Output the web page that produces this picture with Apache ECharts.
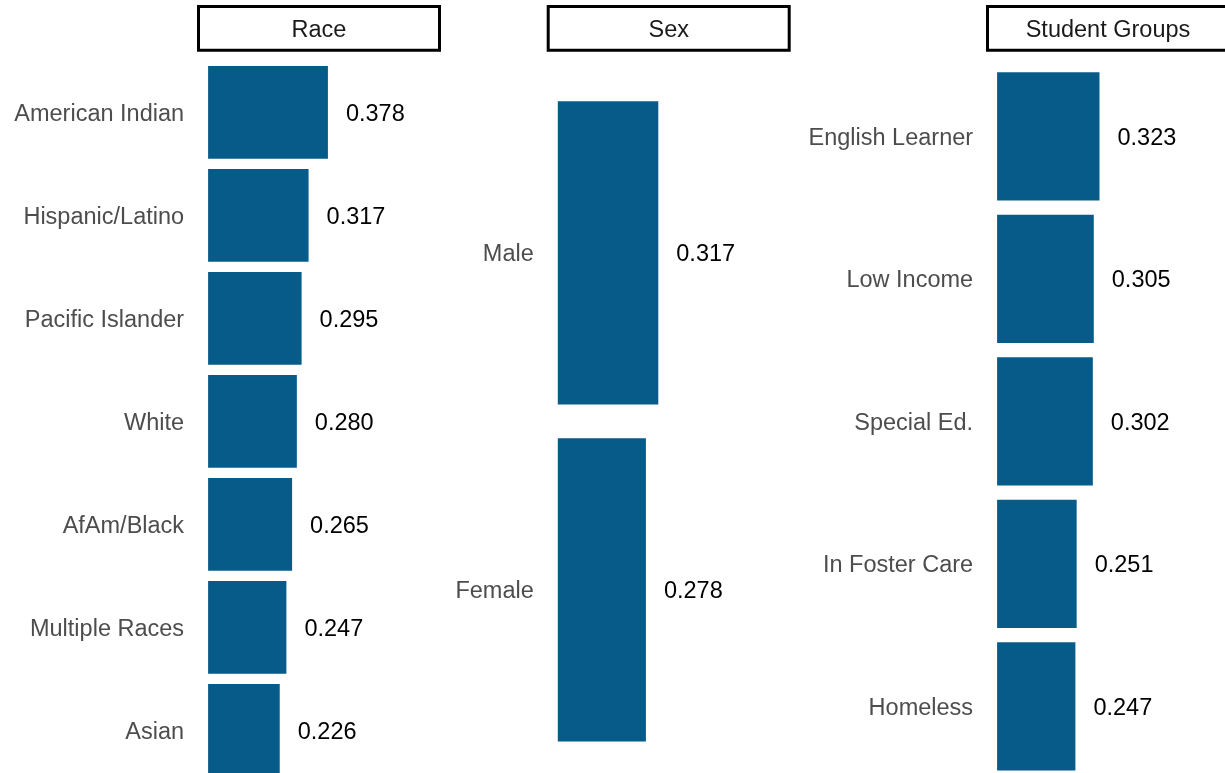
<!DOCTYPE html>
<html>
<head>
<meta charset="utf-8">
<script src="https://cdn.jsdelivr.net/npm/echarts@6/dist/echarts.min.js"></script>
<style>
html,body{margin:0;padding:0;background:#fff;}
#chart{width:1225px;height:773px;}
</style>
</head>
<body>
<div id="chart"></div>
<script>
// ---- data ----
const panelTitles = ['Race', 'Sex', 'Student Groups'];
const raceCats = ['American Indian', 'Hispanic/Latino', 'Pacific Islander', 'White', 'AfAm/Black', 'Multiple Races', 'Asian'];
const raceVals = [0.378, 0.317, 0.295, 0.280, 0.265, 0.247, 0.226];
const sexCats = ['Male', 'Female'];
const sexVals = [0.317, 0.278];
const groupCats = ['English Learner', 'Low Income', 'Special Ed.', 'In Foster Care', 'Homeless'];
const groupVals = [0.323, 0.305, 0.302, 0.251, 0.247];

// ---- layout ----
const FONT = 'Liberation Sans, Arial, sans-serif';
const FS = 23.5;
const BAR = '#075b89';
const SCALE = 317;          // px per unit
const XMAX = 0.7;
const PAD = 0.035 * SCALE;  // expansion offset
const panels = [
  {left: 197, top: 60.8, height: 721, cats: raceCats, vals: raceVals},
  {left: 546.7, top: 84.35, height: 674, cats: sexCats, vals: sexVals},
  {left: 986, top: 65.1, height: 712.5, cats: groupCats, vals: groupVals}
];
const PANEL_W = 244;

const chart = echarts.init(document.getElementById('chart'), null, {renderer: 'canvas'});

const grids = [], xAxes = [], yAxes = [], series = [], graphics = [];
panels.forEach((p, i) => {
  grids.push({left: p.left + PAD, top: p.top, width: XMAX * SCALE, height: p.height,
              containLabel: false, outerBoundsMode: 'none'});
  xAxes.push({type: 'value', gridIndex: i, min: 0, max: XMAX, show: false});
  yAxes.push({
    type: 'category', gridIndex: i, data: p.cats, inverse: true,
    axisLine: {show: false}, axisTick: {show: false}, splitLine: {show: false},
    axisLabel: {
      margin: 24, color: '#4d4d4d', fontFamily: FONT, fontSize: FS,
      formatter: (v) => '{c|' + v + '}',
      rich: {c: {color: '#4d4d4d', fontFamily: FONT, fontSize: FS, padding: [4, 0, 0, 0]}}
    }
  });
  series.push({
    type: 'bar', xAxisIndex: i, yAxisIndex: i, data: p.vals,
    barCategoryGap: '10%',
    itemStyle: {color: BAR},
    label: {
      show: true, position: 'right', distance: 18, offset: [0, 2],
      color: '#000', fontFamily: FONT, fontSize: FS,
      formatter: (d) => d.value.toFixed(3)
    },
    silent: true, animation: false
  });
  graphics.push({
    type: 'group', left: p.left, top: 5,
    children: [
      {type: 'rect', shape: {x: 1.5, y: 1.5, width: PANEL_W - 3, height: 43.7},
       style: {fill: '#fff', stroke: '#000', lineWidth: 3}},
      {type: 'text', x: PANEL_W / 2, y: 25.5,
       style: {text: panelTitles[i], fill: '#1a1a1a', font: FS + 'px ' + FONT, align: 'center', verticalAlign: 'middle'}}
    ]
  });
});

chart.setOption({
  animation: false,
  backgroundColor: '#fff',
  grid: grids,
  xAxis: xAxes,
  yAxis: yAxes,
  series: series,
  graphic: graphics
});
</script>
</body>
</html>
